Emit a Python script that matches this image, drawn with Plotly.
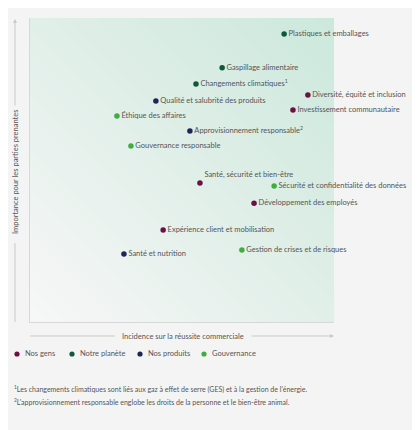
import plotly.graph_objects as go

# topics, positions (0-100 on both axes)
groups = ["Nos gens", "Notre planète", "Nos produits", "Gouvernance"]
group_colors = ["#6d0f45", "#0c5a3a", "#1c2658", "#3fae3f"]

gens_labels = ["Diversité, équité et inclusion", "Investissement communautaire",
               "Santé, sécurité et bien-être", "Développement des employés",
               "Expérience client et mobilisation"]
gens_x = [91.4, 86.5, 55.9, 73.7, 43.8]
gens_y = [74.7, 69.7, 45.7, 39.1, 30.3]

planete_labels = ["Plastiques et emballages", "Gaspillage alimentaire",
                  "Changements climatiques<sup>1</sup>"]
planete_x = [83.6, 63.2, 54.6]
planete_y = [94.7, 83.6, 78.3]

produits_labels = ["Qualité et salubrité des produits", "Approvisionnement responsable<sup>2</sup>",
                   "Santé et nutrition"]
produits_x = [41.4, 52.6, 30.9]
produits_y = [72.7, 62.8, 22.4]

gouv_labels = ["Éthique des affaires", "Gouvernance responsable",
               "Sécurité et confidentialité des données", "Gestion de crises et de risques"]
gouv_x = [28.6, 33.2, 80.3, 69.7]
gouv_y = [67.8, 57.9, 44.7, 23.7]

footnotes = ["<sup>1</sup>Les changements climatiques sont liés aux gaz à effet de serre (GES) et à la gestion de l'énergie.",
             "<sup>2</sup>L'approvisionnement responsable englobe les droits de la personne et le bien-être animal."]

font = "Lato, sans-serif"
txt = "#555555"
line_c = "#c9c9c9"

# the page body adds 8px before the figure, so lay out 8px up/left
OFF = 8
W, H = 420, 430
L, T = 30 - OFF, 18 - OFF
R, B = W - (334 - OFF), H - (322 - OFF)
pw, ph = W - L - R, H - T - B


def px(x):
    return (x - OFF - L) / pw


def py(y):
    return (H - B - (y - OFF)) / ph


fig = go.Figure()

# soft diagonal background
fig.add_trace(go.Heatmap(
    x=[0, 100], y=[0, 100], z=[[0, 1], [1, 2]], zsmooth="best",
    colorscale=[[0, "#f7f7f7"], [0.5, "#e1efe9"], [1, "#cce8dc"]],
    showscale=False, hoverinfo="skip",
))

series = [(gens_labels, gens_x, gens_y), (planete_labels, planete_x, planete_y),
          (produits_labels, produits_x, produits_y), (gouv_labels, gouv_x, gouv_y)]
for name, color, (labels, xs, ys) in zip(groups, group_colors, series):
    pos = ["top right" if l.startswith("Santé, sécurité") else "middle right" for l in labels]
    fig.add_trace(go.Scatter(
        x=xs, y=ys, mode="markers+text", name=name, text=labels,
        textposition=pos, textfont=dict(size=7.5, color=txt, family=font),
        marker=dict(size=5.5, color=color), cliponaxis=False, showlegend=False,
    ))

# axis titles with split arrow lines
fig.add_annotation(x=px(15), y=py(172), xref="paper", yref="paper", text="Importance pour les parties prenantes",
                   textangle=-90, showarrow=False, xanchor="center", yanchor="middle",
                   font=dict(size=7.5, color=txt, family=font))
fig.add_annotation(x=px(183), y=py(336), xref="paper", yref="paper", text="Incidence sur la réussite commerciale",
                   showarrow=False, xanchor="center", yanchor="middle",
                   font=dict(size=7.5, color=txt, family=font))
fig.add_shape(type="line", xref="paper", yref="paper", x0=px(15), x1=px(15), y0=0, y1=py(243),
              line=dict(color=line_c, width=1))
fig.add_shape(type="line", xref="paper", yref="paper", x0=0, x1=px(115), y0=py(336), y1=py(336),
              line=dict(color=line_c, width=1))
fig.add_annotation(x=px(15), y=py(19), ax=px(15), ay=py(107), xref="x domain", yref="y domain",
                   axref="x domain", ayref="y domain", text="", showarrow=True, arrowhead=2,
                   arrowsize=0.8, arrowwidth=1, arrowcolor=line_c)
fig.add_annotation(x=px(334), y=py(336), ax=px(250), ay=py(336), xref="x domain", yref="y domain",
                   axref="x domain", ayref="y domain", text="", showarrow=True, arrowhead=2,
                   arrowsize=0.8, arrowwidth=1, arrowcolor=line_c)

# legend row
leg_x = [17, 72, 140, 204]
for name, color, lx in zip(groups, group_colors, leg_x):
    fig.add_shape(type="circle", xref="paper", yref="paper",
                  x0=px(lx - 2.6), x1=px(lx + 2.6), y0=py(354 + 2.6), y1=py(354 - 2.6),
                  fillcolor=color, line=dict(width=0))
    fig.add_annotation(x=px(lx + 6), y=py(354), xref="paper", yref="paper", text=name,
                       xanchor="left", yanchor="middle", showarrow=False,
                       font=dict(size=7.5, color=txt, family=font))

for i, note in enumerate(footnotes):
    fig.add_annotation(x=px(12), y=py(389 + 12 * i), xref="paper", yref="paper", text=note,
                       xanchor="left", yanchor="middle", showarrow=False,
                       font=dict(size=7, color=txt, family=font))

fig.update_xaxes(range=[0, 100], showgrid=False, zeroline=False, showticklabels=False,
                 showline=True, linecolor="#d8d8d8", linewidth=1, fixedrange=True)
fig.update_yaxes(range=[0, 100], showgrid=False, zeroline=False, showticklabels=False,
                 showline=True, linecolor="#d8d8d8", linewidth=1, fixedrange=True)

fig.update_layout(
    width=W, height=H,
    margin=dict(l=L, r=R, t=T, b=B),
    paper_bgcolor="#f4f4f4", plot_bgcolor="#f4f4f4",
    font=dict(family=font, color=txt, size=8),
    showlegend=False,
)

fig.write_html("out.html")
